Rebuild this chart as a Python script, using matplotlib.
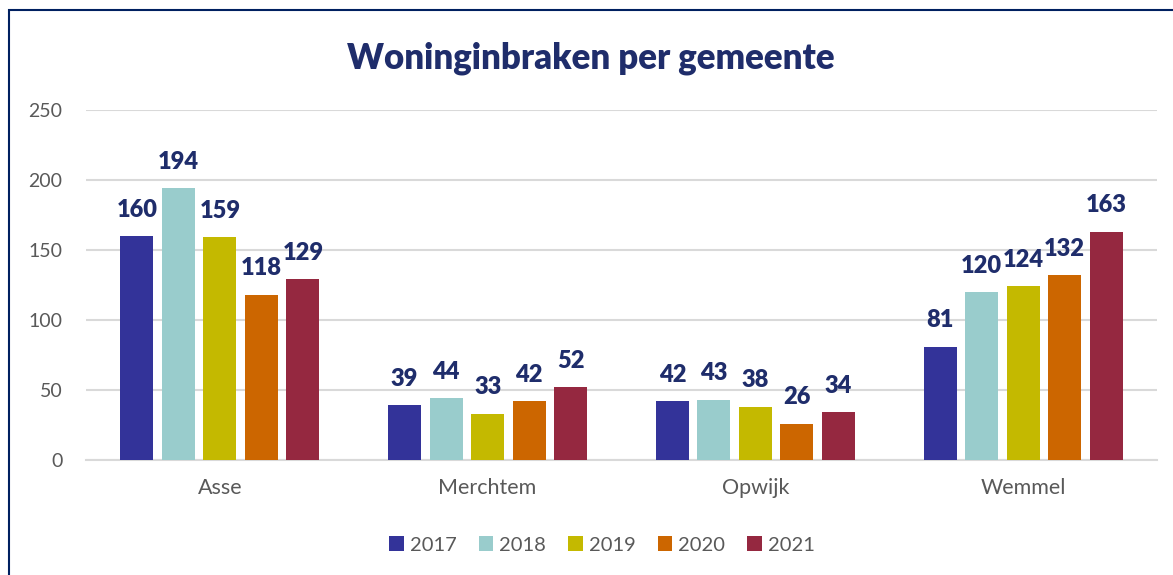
import matplotlib.pyplot as plt
import numpy as np
from matplotlib.patches import Rectangle

plt.rcParams['font.family'] = ['Lato', 'DejaVu Sans']

# data
gemeenten = ['Asse', 'Merchtem', 'Opwijk', 'Wemmel']
jaren = ['2017', '2018', '2019', '2020', '2021']
waarden = {
    '2017': [160, 39, 42, 81],
    '2018': [194, 44, 43, 120],
    '2019': [159, 33, 38, 124],
    '2020': [118, 42, 26, 132],
    '2021': [129, 52, 34, 163],
}
kleuren = ['#333399', '#99CCCC', '#C4B900', '#CC6600', '#952840']
navy = '#1F2D6B'
grijs = '#595959'

fig = plt.figure(figsize=(11.73, 5.75), dpi=100)
ax = fig.add_axes([86 / 1173, 1 - 460 / 575, (1157 - 86) / 1173, 350 / 575])

x = np.arange(len(gemeenten))
pitch = 0.155
breedte = 0.123
for i, jaar in enumerate(jaren):
    pos = x + (i - 2) * pitch
    bars = ax.bar(pos, waarden[jaar], width=breedte, color=kleuren[i], label=jaar, zorder=3)
    for b, v in zip(bars, waarden[jaar]):
        ax.annotate(str(v), (b.get_x() + b.get_width() / 2, v), xytext=(0, 14),
                    textcoords='offset points', ha='center', va='baseline',
                    fontsize=17, fontweight='heavy', color=navy)

ax.set_xlim(-0.5, 3.5)
ax.set_ylim(0, 250)
ax.set_yticks(range(0, 251, 50))
ax.set_xticks(x)
ax.set_xticklabels(gemeenten)
ax.tick_params(axis='both', length=0, labelsize=14, labelcolor=grijs)
ax.tick_params(axis='x', pad=13, labelsize=15.5)
ax.tick_params(axis='y', pad=17)
ax.grid(axis='y', color='#D9D9D9', linewidth=1.5, zorder=0)
for s in ['top', 'right', 'left']:
    ax.spines[s].set_visible(False)
ax.spines['bottom'].set_color('#D9D9D9')
ax.spines['bottom'].set_linewidth(1.5)

fig.text(591 / 1173, 1 - 58 / 575, 'Woninginbraken per gemeente', ha='center', va='center',
         fontsize=25, fontweight='heavy', color=navy)

fig.legend(loc='center', bbox_to_anchor=(602 / 1173, 1 - 545 / 575), ncol=5, frameon=False,
           fontsize=14.5, labelcolor=grijs, handlelength=0.72, handleheight=0.72,
           handletextpad=0.3, columnspacing=1.1)

# rand rond de grafiek
fig.patches.append(Rectangle((8.5 / 1173, -0.1), 1.2, 1.1 - 10.5 / 575, transform=fig.transFigure,
                             fill=False, edgecolor='#002060', linewidth=1.5, clip_on=False))

fig.savefig('out.png', dpi=100)
